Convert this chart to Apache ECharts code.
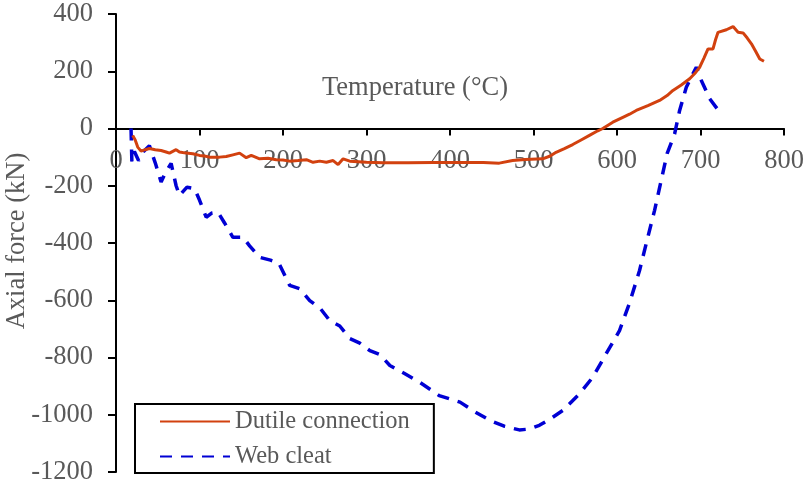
<!DOCTYPE html>
<html>
<head>
<meta charset="utf-8">
<script src="https://cdn.jsdelivr.net/npm/echarts@6/dist/echarts.min.js"></script>
<style>
  html, body { margin: 0; padding: 0; background: #fff; }
  #chart { width: 804px; height: 486px; }
</style>
</head>
<body>
<div id="chart"></div>
<script>
// Axial force vs temperature for two beam-end connection types
var seriesNames = ['Dutile connection', 'Web cleat'];
var xTitle = 'Temperature (°C)';
var yTitle = 'Axial force (kN)';

// [temperature °C, axial force kN]
var dutileConnection = [
  [20,-24],[23,-40],[26,-65],[30,-79],[35,-74],[40,-70],[47,-74],[54,-77],[60,-82],[64,-86],
  [68,-80],[72,-74],[76,-82],[84,-86],[92,-88],[100,-94],[106,-96],[112,-100],[124,-100],[132,-98],
  [140,-92],[148,-86],[156,-102],[162,-94],[172,-106],[182,-104],[192,-109],[200,-110],[208,-114],[218,-112],
  [228,-109],[236,-118],[244,-114],[252,-118],[260,-112],[266,-126],[272,-106],[280,-114],[290,-116],[300,-118],
  [320,-120],[350,-120],[380,-119],[420,-119],[440,-119],[459,-121],[475,-112],[490,-108],[511,-106],[520,-96],
  [527,-83],[537,-70],[547,-56],[557,-40],[567,-24],[577,-8],[583,0],[595,22],[607,39],[615,50],
  [623,63],[637,80],[651,98],[660,115],[667,133],[677,152],[687,174],[694,195],[699,214],[704,245],
  [709,278],[715,278],[718,310],[721,336],[731,345],[739,356],[745,336],[751,334],[756,316],[761,296],
  [766,270],[771,243],[776,235]
];

var webCleat = [
  [18,0],[19,-115],[22,-80],[27,-112],[33,-80],[40,-60],[47,-120],[54,-187],[60,-150],[66,-122],
  [72,-200],[76,-234],[85,-205],[94,-210],[100,-250],[108,-310],[115,-295],[122,-292],[130,-330],[140,-380],
  [152,-380],[160,-410],[172,-450],[185,-460],[195,-470],[208,-548],[220,-560],[232,-601],[245,-630],[256,-671],
  [268,-690],[280,-734],[292,-750],[304,-776],[316,-790],[328,-828],[345,-855],[364,-887],[387,-933],[412,-956],
  [430,-990],[448,-1020],[465,-1040],[483,-1053],[495,-1050],[507,-1037],[520,-1015],[535,-985],[555,-927],[571,-869],
  [587,-787],[603,-706],[615,-610],[627,-496],[636,-390],[645,-286],[653,-180],[660,-88],[669,-19],[675,63],
  [683,144],[689,180],[695,214],[701,168],[711,104],[720,69]
];

var xTicks = { min: 0, max: 800, step: 100 };
var yTicks = { min: -1200, max: 400, step: 200 };

var font = 'Liberation Serif, Times New Roman, serif';
var grey = '#595959';
var axisFs = 26.5;
var legendFs = 24.5;

function plain(v) { return String(v); }

var chart = echarts.init(document.getElementById('chart'));
chart.setOption({
  animation: false,
  backgroundColor: '#ffffff',
  grid: { left: 116, right: 20, top: 14, bottom: 14, containLabel: false, outerBoundsMode: 'none' },
  xAxis: {
    type: 'value',
    position: 'bottom',
    offset: 0,
    min: xTicks.min, max: xTicks.max, interval: xTicks.step,
    axisLine: { show: true, onZero: false, lineStyle: { color: '#000', width: 2 } },
    axisTick: { show: true, inside: false, length: 7, lineStyle: { color: '#000', width: 2 } },
    axisLabel: { color: grey, fontFamily: font, fontSize: axisFs, margin: 19, formatter: plain },
    splitLine: { show: false }
  },
  yAxis: {
    type: 'value',
    min: yTicks.min, max: yTicks.max, interval: yTicks.step,
    axisLine: { show: true, onZero: false, lineStyle: { color: '#000', width: 2 } },
    axisTick: { show: true, inside: false, length: 8, lineStyle: { color: '#000', width: 2 } },
    axisLabel: { color: grey, fontFamily: font, fontSize: axisFs, margin: 23, formatter: plain },
    splitLine: { show: false }
  },
  legend: {
    orient: 'vertical',
    left: 135, top: 404,
    width: 296,
    padding: [5, 24, 4, 24],
    borderColor: '#000', borderWidth: 2,
    backgroundColor: '#fff',
    itemWidth: 70, itemHeight: 25, itemGap: 10,
    itemStyle: { opacity: 0 },
    textStyle: { color: grey, fontFamily: font, fontSize: legendFs },
    data: seriesNames
  },
  graphic: [
    {
      type: 'text', x: 415, y: 88,
      style: { text: xTitle, fill: grey, font: axisFs + 'px ' + font, align: 'center', verticalAlign: 'middle' }
    },
    {
      type: 'text', x: 17, y: 241, rotation: Math.PI / 2,
      style: { text: yTitle, fill: grey, font: axisFs + 'px ' + font, align: 'center', verticalAlign: 'middle' }
    }
  ],
  series: [
    {
      name: seriesNames[0], type: 'line', data: dutileConnection,
      symbol: 'none', smooth: false, z: 3,
      lineStyle: { color: '#D2410F', width: 3 },
      itemStyle: { color: '#D2410F' }
    },
    {
      name: seriesNames[1], type: 'line', data: webCleat,
      symbol: 'none', smooth: false, z: 2,
      lineStyle: { color: '#0000D4', width: 3.5, type: [12, 9] },
      itemStyle: { color: '#0000D4' }
    }
  ]
});

// Lift the temperature axis (line, ticks and labels together) up to the zero-force level
var zeroY = chart.convertToPixel({ yAxisIndex: 0 }, 0);
var bottomY = chart.convertToPixel({ yAxisIndex: 0 }, yTicks.min);
chart.setOption({ xAxis: { offset: zeroY - bottomY } });
</script>
</body>
</html>
